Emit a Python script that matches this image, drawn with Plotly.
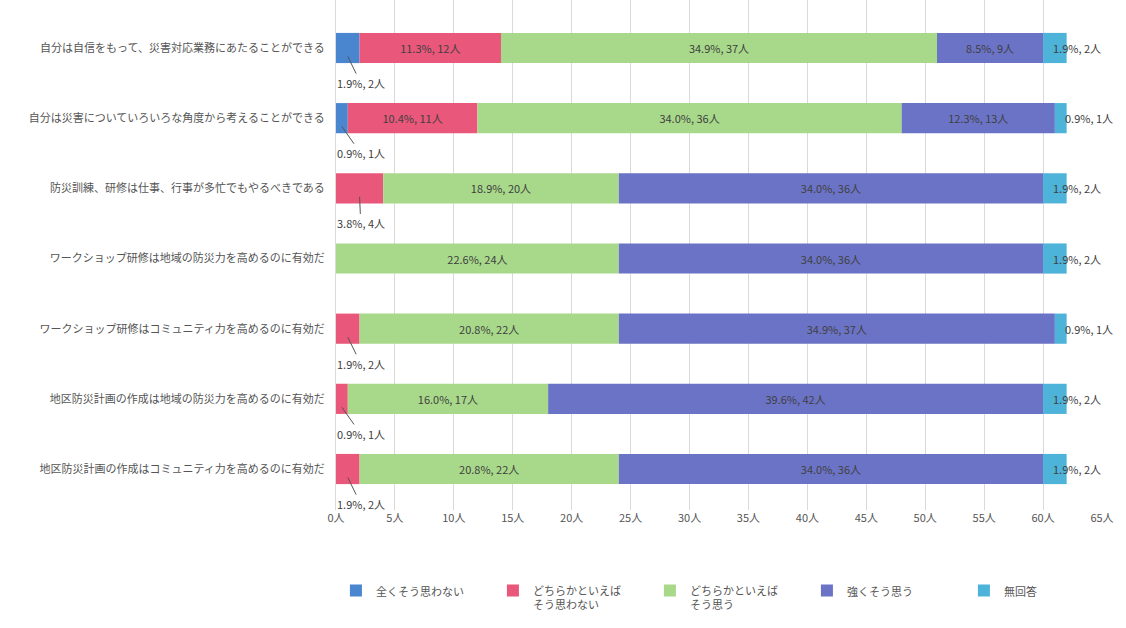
import plotly.graph_objects as go

categories = [
    "自分は自信をもって、災害対応業務にあたることができる",
    "自分は災害についていろいろな角度から考えることができる",
    "防災訓練、研修は仕事、行事が多忙でもやるべきである",
    "ワークショップ研修は地域の防災力を高めるのに有効だ",
    "ワークショップ研修はコミュニティ力を高めるのに有効だ",
    "地区防災計画の作成は地域の防災力を高めるのに有効だ",
    "地区防災計画の作成はコミュニティ力を高めるのに有効だ",
]
series_names = [
    "全くそう思わない",
    "どちらかといえば<br>そう思わない",
    "どちらかといえば<br>そう思う",
    "強くそう思う",
    "無回答",
]
counts_none = [2, 1, 0, 0, 0, 0, 0]
counts_rather_not = [12, 11, 4, 0, 2, 1, 2]
counts_rather_yes = [37, 36, 20, 24, 22, 17, 22]
counts_strong = [9, 13, 36, 36, 37, 42, 36]
counts_na = [2, 1, 2, 2, 1, 2, 2]

pct_none = [1.9, 0.9, 0.0, 0.0, 0.0, 0.0, 0.0]
pct_rather_not = [11.3, 10.4, 3.8, 0.0, 1.9, 0.9, 1.9]
pct_rather_yes = [34.9, 34.0, 18.9, 22.6, 20.8, 16.0, 20.8]
pct_strong = [8.5, 12.3, 34.0, 34.0, 34.9, 39.6, 34.0]
pct_na = [1.9, 0.9, 1.9, 1.9, 0.9, 1.9, 1.9]

tick_vals = [0, 5, 10, 15, 20, 25, 30, 35, 40, 45, 50, 55, 60, 65]
tick_text = ["0人", "5人", "10人", "15人", "20人", "25人", "30人", "35人",
             "40人", "45人", "50人", "55人", "60人", "65人"]

colors = ["#4A86CF", "#E9577A", "#A8D98A", "#6B73C6", "#4DB3D8"]

all_counts = [counts_none, counts_rather_not, counts_rather_yes, counts_strong, counts_na]
all_pcts = [pct_none, pct_rather_not, pct_rather_yes, pct_strong, pct_na]

FONT = "Noto Sans CJK JP"
TXT = "#404040"

fig = go.Figure()
annotations = []
cum = [0] * len(categories)
for s, (name, cnts, pcts, col) in enumerate(zip(series_names, all_counts, all_pcts, colors)):
    texts = []
    for i, (c, p) in enumerate(zip(cnts, pcts)):
        label = f"{p:.1f}%, {c}人"
        if c == 0:
            texts.append("")
        elif s == 4:
            texts.append("")
            annotations.append(dict(x=cum[i] + 0.7, y=i, xref="x", yref="y", text=label,
                                    showarrow=False, xanchor="left",
                                    font=dict(family=FONT, size=11, color=TXT)))
        elif c >= 5:
            texts.append(label)
        else:
            texts.append("")
            annotations.append(dict(x=cum[i] + c / 2, y=i + 0.12, xref="x", yref="y",
                                    ax=2.1, ay=i + 0.5, axref="x", ayref="y",
                                    text=label, showarrow=True, arrowhead=0,
                                    arrowwidth=1, arrowcolor="#555555",
                                    font=dict(family=FONT, size=11, color=TXT)))
    fig.add_trace(go.Bar(
        y=list(range(len(categories))), x=cnts, base=cum[:], orientation="h",
        name=name, marker=dict(color=col, line=dict(width=0)),
        text=texts, textposition="inside", insidetextanchor="middle",
        constraintext="none", textangle=0,
        textfont=dict(family=FONT, size=11, color=TXT),
        width=0.43, hoverinfo="skip",
    ))
    cum = [a + b for a, b in zip(cum, cnts)]

fig.update_layout(
    width=1126, height=628,
    margin=dict(l=336, r=24, t=0, b=118, autoexpand=False),
    paper_bgcolor="white", plot_bgcolor="white",
    barmode="overlay",
    font=dict(family=FONT, size=11, color=TXT),
    annotations=annotations,
    showlegend=True,
    legend=dict(orientation="h", x=-0.0001, y=-0.131, xanchor="left", yanchor="top",
                valign="top",
                entrywidth=112, entrywidthmode="pixels", traceorder="normal",
                font=dict(family=FONT, size=11, color="#555555"),
                itemwidth=30, bgcolor="rgba(0,0,0,0)"),
)
fig.update_xaxes(range=[0, 65], tickvals=tick_vals, ticktext=tick_text,
                 showgrid=True, gridcolor="#D9D9D9", gridwidth=1,
                 zeroline=False, showline=False,
                 tickfont=dict(family=FONT, size=11, color="#555555"))
fig.update_yaxes(range=[6.584, -0.684], tickvals=list(range(len(categories))),
                 ticktext=categories, showgrid=False, zeroline=False,
                 showline=True, linecolor="#D9D9D9", ticks="", ticklabelstandoff=8,
                 tickfont=dict(family=FONT, size=11, color="#555555"))

fig.write_html("out.html")
